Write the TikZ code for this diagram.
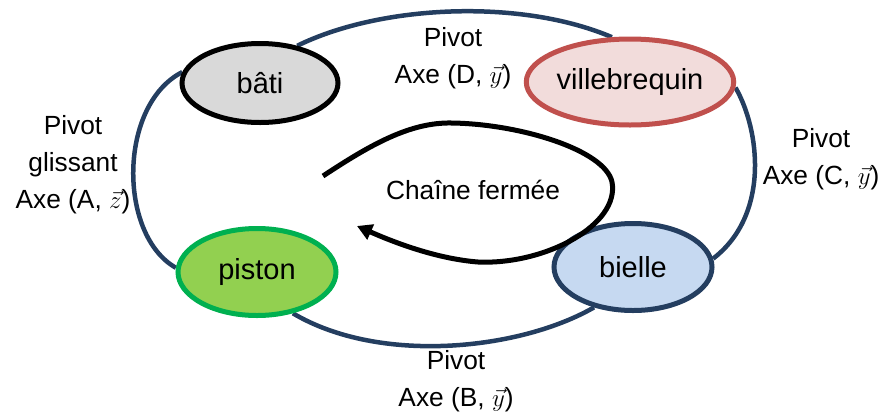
\documentclass[tikz,border=0pt]{standalone}
\usepackage{fontspec}
\setmainfont{Liberation Sans}
\usetikzlibrary{shapes.geometric,arrows.meta,backgrounds}
\definecolor{navy}{RGB}{36,62,96}
\definecolor{batifill}{RGB}{217,217,217}
\definecolor{villefill}{RGB}{242,220,219}
\definecolor{villedraw}{RGB}{192,80,77}
\definecolor{pistonfill}{RGB}{146,208,80}
\definecolor{pistondraw}{RGB}{0,176,80}
\definecolor{biellefill}{RGB}{198,217,241}
\tikzset{
  part/.style={ellipse, inner sep=0pt, line width=5pt, font=\fontsize{29}{31}\selectfont},
  link/.style={draw=navy, line width=4.5pt},
  lbl/.style={align=center, font=\fontsize{26.3}{37}\selectfont, inner sep=0pt}
}
\begin{document}
\begin{tikzpicture}[x=1pt,y=-1pt]
\useasboundingbox (0,0) rectangle (893,416);
\node[part, draw=black, fill=batifill, minimum width=156pt, minimum height=79pt] (bati) at (260,83) {bâti};
\node[part, draw=villedraw, fill=villefill, minimum width=159pt, minimum height=86pt] (ville) at (630,82) {villebrequin};
\node[part, draw=pistondraw, fill=pistonfill, minimum width=158pt, minimum height=87pt] (piston) at (257,272) {piston};
\node[part, draw=navy, fill=biellefill, minimum width=158pt, minimum height=87pt] (bielle) at (633,267) {bielle};
\begin{scope}[on background layer]
\draw[link] (bati.45) .. controls (380,5) and (520,-2) .. (ville.112);
\draw[link] (ville.-3) .. controls (760,130) and (770,215) .. (bielle.6);
\draw[link] (bielle.226) .. controls (520,350) and (380,365) .. (piston.-49);
\draw[link] (piston.177) .. controls (118,235) and (118,105) .. (bati.172);
\end{scope}
\coordinate (cs) at (323,176);
\coordinate (ce) at (357,226);
\draw[line width=5pt, -{Triangle[length=15pt,width=16pt]}] (cs) .. controls (370,145) and (410,122) .. (452,123) .. controls (520,124) and (605,150) .. (612,182) .. controls (620,225) and (545,265) .. (478,262) .. controls (440,259) and (400,245) .. (ce);
\node[lbl] (lD) at (453,58) {Pivot\\Axe (D, $\vec{y}$)};
\node[lbl] (lC) at (821,159) {Pivot\\Axe (C, $\vec{y}$)};
\node[lbl] (lB) at (456,381) {Pivot\\Axe (B, $\vec{y}$)};
\node[lbl] (lA) at (73,165) {Pivot\\glissant\\Axe (A, $\vec{z}$)};
\node[lbl] (ch) at (473,190) {Chaîne fermée};
\end{tikzpicture}
\end{document}
